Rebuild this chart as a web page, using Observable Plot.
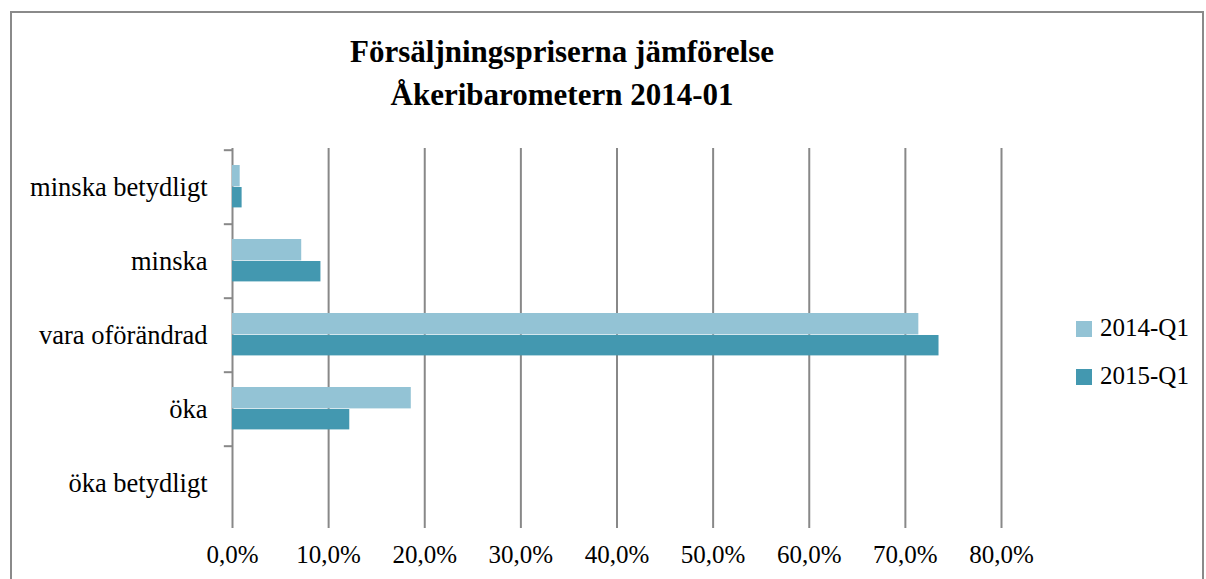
<!DOCTYPE html>
<html>
<head>
<meta charset="utf-8">
<script src="https://cdn.jsdelivr.net/npm/d3@7"></script>
<script src="https://cdn.jsdelivr.net/npm/@observablehq/plot@0.6"></script>
<style>
  html, body { margin: 0; padding: 0; background: #fff; overflow: hidden; }
  #page { position: relative; width: 1206px; height: 579px; overflow: hidden; font-family: "Liberation Serif", "DejaVu Serif", serif; }
  #frame { position: absolute; left: 10px; top: 11px; width: 1190px; height: 620px; border: 2px solid #8a8a8a; }
  #title { position: absolute; left: 0; width: 1124px; top: 30px; text-align: center; font-weight: bold; font-size: 31px; line-height: 43px; color: #000; }
  #chart { position: absolute; left: 0; top: 130px; }
  .leg { position: absolute; left: 1076px; font-size: 25px; color: #000; white-space: nowrap; line-height: 26px; }
  .leg span.sw { display: inline-block; width: 16px; height: 16px; margin-right: 8px; vertical-align: -1px; }
</style>
</head>
<body>
<div id="page">
  <div id="frame"></div>
  <div id="title"></div>
  <div id="chart"></div>
  <div id="legend"></div>
</div>
<script>
const titleLines = ["Försäljningspriserna jämförelse", "Åkeribarometern 2014-01"];
const categories = ["minska betydligt", "minska", "vara oförändrad", "öka", "öka betydligt"];
const seriesNames = ["2014-Q1", "2015-Q1"];
const values2014 = [0.008, 0.072, 0.714, 0.186, 0.0];
const values2015 = [0.010, 0.092, 0.735, 0.122, 0.0];
const xTicks = [0, 0.1, 0.2, 0.3, 0.4, 0.5, 0.6, 0.7, 0.8];
const colors = ["#93c3d5", "#4398b0"];

document.getElementById("title").innerHTML = titleLines.map(t => `<div>${t}</div>`).join("");

const data = categories.map((c, i) => ({category: c, v2014: values2014[i], v2015: values2015[i]}));

const H = 449, mTop = 18, mBottom = 58;
const step = (H - mTop - mBottom) / categories.length;
const grid = "#888888";
const fmt = d => (d * 100).toFixed(1).replace(".", ",") + "%";

const chart = Plot.plot({
  width: 1206,
  height: H,
  marginTop: mTop,
  marginBottom: mBottom,
  marginLeft: 232,
  marginRight: 205,
  style: {fontFamily: "'Liberation Serif', 'DejaVu Serif', serif", fontSize: "25px", color: "#000", background: "transparent"},
  x: {domain: [0, 0.8], ticks: xTicks},
  y: {domain: categories, padding: 0},
  marks: [
    Plot.ruleX(xTicks, {x: d => d, stroke: grid, strokeWidth: 2}),
    Plot.barX(data, {y: "category", x: "v2014", fill: colors[0], insetTop: 15, insetBottom: step - 37}),
    Plot.barX(data, {y: "category", x: "v2015", fill: colors[1], insetTop: 37, insetBottom: step - 58}),
    Plot.ruleY(categories, {y: d => d, x1: -0.0085, x2: 0, dy: -step / 2, stroke: grid, strokeWidth: 2}),
    Plot.ruleY([0], {x1: -0.0085, x2: 0.8, frameAnchor: "bottom", stroke: grid, strokeWidth: 2}),
    Plot.axisY({tickSize: 0, tickPadding: 25, fontSize: 26.5, label: null}),
    Plot.axisX({ticks: xTicks, tickFormat: fmt, tickSize: 7, tickPadding: 17, stroke: grid, strokeWidth: 2, strokeOpacity: 1, fontSize: 25, label: null})
  ]
});
document.getElementById("chart").appendChild(chart);

const leg = document.getElementById("legend");
seriesNames.forEach((s, i) => {
  const d = document.createElement("div");
  d.className = "leg";
  d.style.top = (315 + i * 48) + "px";
  d.innerHTML = `<span class="sw" style="background:${colors[i]}"></span>${s}`;
  leg.appendChild(d);
});
</script>
</body>
</html>
